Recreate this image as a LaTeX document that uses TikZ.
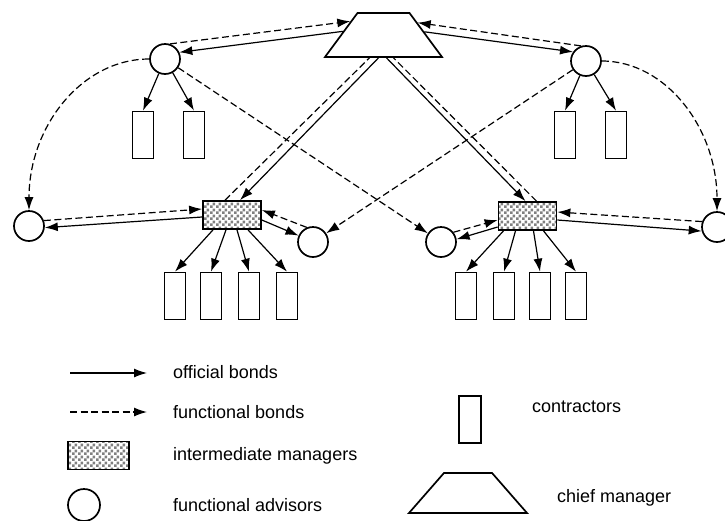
\documentclass[tikz,border=0pt]{standalone}
\usepackage{fontspec}
\setmainfont{Liberation Sans}
\usetikzlibrary{shapes.geometric,arrows.meta,calc,patterns.meta}

\tikzdeclarepattern{
  name=mgrchecks,
  type=uncolored,
  bounding box={(0pt,0pt) and (6pt,6pt)},
  tile size={(6pt,6pt)},
  code={\fill (0pt,0pt) rectangle (3pt,3pt); \fill (3pt,3pt) rectangle (6pt,6pt);}
}

\tikzset{
  advisor/.style={circle,draw,line width=1.7pt,minimum size=30pt,inner sep=0pt},
  contractor/.style={rectangle,draw,line width=1.7pt,minimum width=21pt,minimum height=47pt,inner sep=0pt},
  manager/.style={rectangle,draw,line width=1.7pt,minimum width=58pt,minimum height=28pt,inner sep=0pt,
    preaction={fill=white},pattern=mgrchecks,pattern color=gray},
  chief/.style={trapezium,trapezium angle=58,trapezium stretches=true,draw,line width=1.7pt,
    minimum width=117pt,minimum height=44pt,inner sep=1pt},
  obond/.style={-{Latex[length=13pt,width=9pt]},line width=1.2pt},
  fbond/.style={obond,dash pattern=on 7pt off 3.5pt},
  fline/.style={line width=1.2pt,dash pattern=on 7pt off 3.5pt},
  legtext/.style={anchor=west,font=\fontsize{18}{21}\selectfont,inner sep=0pt}
}

\begin{document}
\begin{tikzpicture}[x=1pt,y=-1pt]
    \useasboundingbox (0,0) rectangle (725,520);

    % Chief manager and top advisors
    \node[chief] (cm) at (383.5,35) {};
    \node[advisor] (aTL) at (165,59) {};
    \node[advisor] (aTR) at (586,61) {};

    % Contractors of the top advisors
    \node[contractor] (cTL1) at (143,135) {};
    \node[contractor] (cTL2) at (194,135) {};
    \node[contractor] (cTR1) at (565,135) {};
    \node[contractor] (cTR2) at (616,135) {};

    % Intermediate managers and their advisors
    \node[manager] (mL) at (232,215) {};
    \node[manager] (mR) at (527.5,216) {};
    \node[advisor] (aL) at (29,226) {};
    \node[advisor] (aLs) at (313,242) {};
    \node[advisor] (aRs) at (441,242) {};
    \node[advisor] (aR) at (717,227) {};

    % Contractors of the intermediate managers
    \node[contractor] (cL1) at (175,296) {};
    \node[contractor] (cL2) at (211,296) {};
    \node[contractor] (cL3) at (249,296) {};
    \node[contractor] (cL4) at (287,296) {};
    \node[contractor] (cR1) at (466,296) {};
    \node[contractor] (cR2) at (504,296) {};
    \node[contractor] (cR3) at (540,296) {};
    \node[contractor] (cR4) at (576,296) {};

    % Bonds of the chief manager
    \draw[fbond] (aTL.72) -- ($(cm.top left corner)!0.2!(cm.bottom left corner)$);
    \draw[obond] ($(cm.top left corner)!0.42!(cm.bottom left corner)$) -- (aTL.25);
    \draw[fbond] (aTR.108) -- ($(cm.top right corner)!0.23!(cm.bottom right corner)$);
    \draw[obond] ($(cm.top right corner)!0.43!(cm.bottom right corner)$) -- (aTR.145);
    \draw[obond] ([xshift=-5pt]cm.south) -- ([xshift=8pt]mL.north);
    \draw[fline] ([xshift=-7pt]mL.north) -- ([xshift=-14pt]cm.south);
    \draw[obond] ([xshift=3pt]cm.south) -- ([xshift=-2pt]mR.north);
    \draw[fline] ([xshift=9pt]mR.north) -- ([xshift=10pt]cm.south);

    % Bonds of the top advisors
    \draw[obond] (aTL) -- (cTL1.north);
    \draw[obond] (aTL) -- (cTL2.north);
    \draw[obond] (aTR) -- (cTR1.north);
    \draw[obond] (aTR) -- (cTR2.north);
    \draw[fbond] (aTL.west) .. controls +(-67,0) and +(0,-84) .. (aL.north);
    \draw[fbond] (aTR.east) .. controls +(64,0) and +(0,-83) .. (aR.north);
    \draw[fbond] (aTL) -- (aRs);
    \draw[fbond] (aTR) -- (aLs);

    % Bonds of the left manager
    \draw[fbond] (aL.20) -- ([yshift=6pt]mL.west);
    \draw[obond] ([yshift=-2pt]mL.west) -- (aL.-6);
    \draw[fbond] (aLs.113) -- ([yshift=5pt]mL.east);
    \draw[obond] ([yshift=-5pt]mL.east) -- (aLs.156);
    \foreach \i/\s in {1/-19,2/-6,3/5,4/16}
        \draw[obond] ([xshift=\s pt]mL.south) -- (cL\i.north);

    % Bonds of the right manager
    \draw[fbond] (aRs.38) -- ([yshift=-4pt]mR.west);
    \draw[obond] ([yshift=-11pt]mR.west) -- (aRs.10);
    \draw[fbond] (aR.160) -- ([yshift=4pt]mR.east);
    \draw[obond] ([yshift=-4pt]mR.east) -- (aR.195);
    \foreach \i/\s in {1/-24,2/-12,3/6,4/16}
        \draw[obond] ([xshift=\s pt]mR.south) -- (cR\i.north);

    % Legend
    \coordinate (lo1) at (70,373);
    \coordinate (lo2) at (147,373);
    \draw[obond] (lo1) -- (lo2);
    \coordinate (lf1) at (70,412);
    \coordinate (lf2) at (147,412);
    \draw[fbond] (lf1) -- (lf2);
    \node[manager,minimum width=61pt] (lm) at (98.5,455.5) {};
    \node[advisor,minimum size=32pt] (la) at (84,505) {};
    \node[contractor,minimum width=22pt] (lc) at (470,419.5) {};
    \node[chief,trapezium angle=54,minimum width=118pt,minimum height=40pt] (lcm) at (468,493) {};
    \node[legtext] (to) at (173,372) {official bonds};
    \node[legtext] (tf) at (173,412) {functional bonds};
    \node[legtext] (tm) at (173,456) {intermediate managers};
    \node[legtext] (ta) at (173,505) {functional advisors};
    \node[legtext] (tc) at (532,407) {contractors};
    \node[legtext] (tcm) at (557,498) {chief manager};
\end{tikzpicture}
\end{document}
